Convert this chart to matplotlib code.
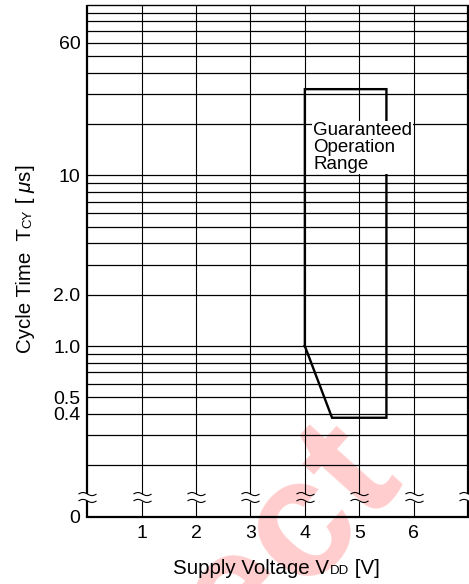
import matplotlib
matplotlib.use("Agg")
import matplotlib.pyplot as plt
import numpy as np
from matplotlib.path import Path
from matplotlib.font_manager import FontProperties
from matplotlib.transforms import IdentityTransform
from matplotlib.ticker import NullLocator

plt.rcParams['font.family'] = ['Liberation Sans', 'DejaVu Sans']
plt.rcParams['mathtext.fontset'] = 'custom'
plt.rcParams['mathtext.rm'] = 'Liberation Sans'
plt.rcParams['mathtext.it'] = 'Liberation Sans:italic'

# ---------------- data ----------------
x_ticks = [1, 2, 3, 4, 5, 6]
x_tick_labels = ['1', '2', '3', '4', '5', '6']
y_tick_values = [0.1, 0.4, 0.5, 1.0, 2.0, 10, 60]
y_tick_labels = ['0', '0.4', '0.5', '1.0', '2.0', '10', '60']
grid_y = [0.2, 0.3, 0.4, 0.5, 0.6, 0.7, 0.8, 0.9,
          1, 2, 3, 4, 5, 6, 7, 8, 9,
          10, 20, 30, 40, 50, 60, 70, 80, 90]
range_vdd = [4.0, 4.0, 5.5, 5.5, 4.5, 4.0]
range_tcy = [1.0, 32, 32, 0.38, 0.38, 1.0]
x_lim = (0, 7)
y_lim = (0.1, 100)
break_x = [0, 1, 2, 3, 4, 5, 6, 7]
break_y = 0.13

W, H = 469, 584
fig = plt.figure(figsize=(W / 100, H / 100), dpi=100)
fig.patch.set_facecolor('white')

L, R, T, B = 87.3, 468.0, 4.7, 516.7
ax = fig.add_axes([L / W, (H - B) / H, (R - L) / W, (B - T) / H])
ax.set_facecolor('none')
ax.set_yscale('log')
ax.set_xlim(*x_lim)
ax.set_ylim(*y_lim)

# gridlines
ax.hlines(grid_y, x_lim[0], x_lim[1], colors='black', lw=0.9, zorder=1)
gap = 1.045
ax.vlines(x_ticks, y_lim[0], break_y / gap, colors='black', lw=0.8, zorder=1)
ax.vlines(x_ticks, break_y * gap, y_lim[1], colors='black', lw=0.8, zorder=1)
# broken left / right borders
ax.vlines(list(x_lim), y_lim[0], break_y / gap, colors='black', lw=1.6,
          zorder=2, clip_on=False)
ax.vlines(list(x_lim), break_y * gap, y_lim[1], colors='black', lw=1.6,
          zorder=2, clip_on=False)
ax.spines['left'].set_visible(False)
ax.spines['right'].set_visible(False)
ax.spines['top'].set_linewidth(1.0)
ax.spines['bottom'].set_linewidth(1.6)

# break marks
t = np.linspace(-1, 1, 40)
wave = -0.17 * np.sin(np.pi * t)
verts = np.concatenate([np.column_stack([t, 0.38 + wave]),
                        np.column_stack([t, -0.38 + wave])])
codes = ([Path.MOVETO] + [Path.LINETO] * (len(t) - 1)) * 2
brk = Path(verts, codes)
ax.plot(break_x, [break_y] * len(break_x), ls='none', marker=brk, ms=13,
        mec='black', mfc='none', mew=0.8, clip_on=False, zorder=5)

# guaranteed operation range
ax.plot(range_vdd, range_tcy, color='black', lw=1.7, solid_joinstyle='miter',
        zorder=3)
ax.text(4.15, 20.5, "Guaranteed\nOperation\nRange", ha='left', va='top',
        fontsize=13.5, linespacing=0.98,
        bbox=dict(facecolor='white', edgecolor='none', pad=0.8), zorder=4)

# ticks
ax.set_xticks(x_ticks, x_tick_labels)
ax.set_yticks(y_tick_values, y_tick_labels)
ax.yaxis.set_minor_locator(NullLocator())
ax.xaxis.set_minor_locator(NullLocator())
ax.tick_params(axis='both', length=0, labelsize=14)
ax.tick_params(axis='x', pad=6)
ax.tick_params(axis='y', pad=5)

# composed axis labels (small subscripts on the baseline)
renderer = fig.canvas.get_renderer()


def compose(pieces, cx, cy, vertical=False):
    widths = []
    for s, size in pieces:
        prop = FontProperties(family=['Liberation Sans', 'DejaVu Sans'], size=size)
        w, h, d = renderer.get_text_width_height_descent(s, prop, ismath=('$' in s))
        widths.append(w)
    total = sum(widths)
    pos = (cy if vertical else cx) - total / 2
    for (s, size), w in zip(pieces, widths):
        if vertical:
            fig.text(cx, pos, s, fontsize=size, rotation=90, rotation_mode='anchor',
                     ha='left', va='baseline', transform=IdentityTransform())
        else:
            fig.text(pos, cy, s, fontsize=size, ha='left', va='baseline',
                     transform=IdentityTransform())
        pos += w


compose([("Supply Voltage V", 14.8), ("DD", 9.5), (" [V]", 14.8)], 276.5, 9.5)
compose([("Cycle Time  T", 14.8), ("CY", 9.5), (" [", 14.8), (r" $\mu$s]", 14.8)],
        31.0, H - 258.5, vertical=True)

# faint diagonal watermark
fig.text(403, 110, "Direct", fontsize=122, weight='bold', rotation=48,
         rotation_mode='anchor', ha='right', va='baseline', color='red',
         alpha=0.2, transform=IdentityTransform(), zorder=-1)

fig.savefig("out.png", dpi=100, facecolor='white')
